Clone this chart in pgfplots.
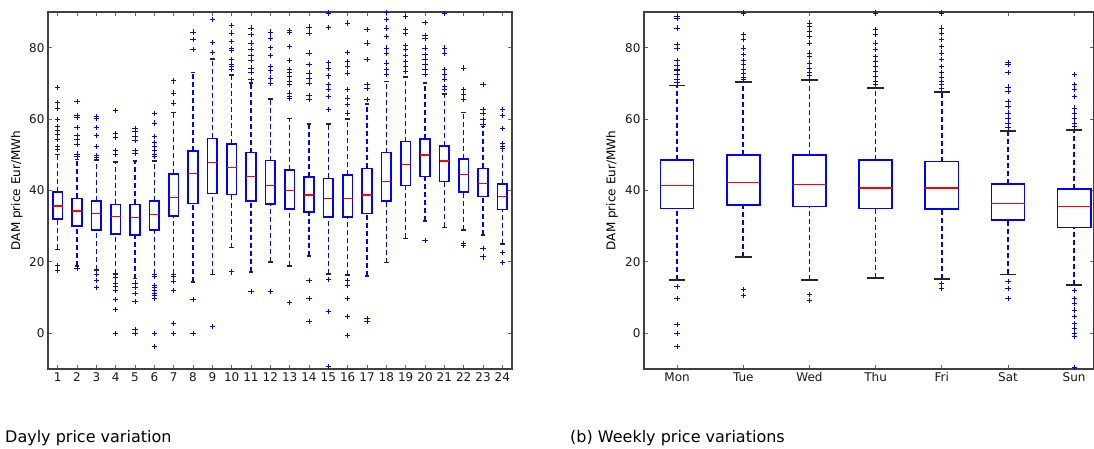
\documentclass[border=0pt]{standalone}
\usepackage{pgfplots}
\usepackage{pgfplotstable}
\pgfplotsset{compat=1.18}
\usepackage{fontspec}
\setmainfont{DejaVu Sans}

% half box width and half cap width (axis units)
\def\bw{0.25}
\def\cw{0.125}
% #1 pos, #2 lower whisker, #3 lower quartile, #4 median, #5 upper quartile, #6 upper whisker
\newcommand\bx[6]{%
  \pgfmathsetmacro\xl{#1-\bw}\pgfmathsetmacro\xr{#1+\bw}%
  \pgfmathsetmacro\capL{#1-\cw}\pgfmathsetmacro\capR{#1+\cw}%
  \edef\tmp{%
    \noexpand\addplot[whisk] coordinates {(#1,#2) (#1,#3)};
    \noexpand\addplot[whisk] coordinates {(#1,#5) (#1,#6)};
    \noexpand\addplot[boxl] coordinates {(\xl,#3) (\xr,#3) (\xr,#5) (\xl,#5) (\xl,#3) (\xr,#3)};
    \noexpand\addplot[medl] coordinates {(\xl,#4) (\xr,#4)};
    \noexpand\addplot[capl] coordinates {(\capL,#2) (\capR,#2)};
    \noexpand\addplot[capl] coordinates {(\capL,#6) (\capR,#6)};
  }\tmp}

\pgfplotsset{
  mpl/.style={
    scale only axis, anchor=south west,
    ymin=-10, ymax=90, ytick={0,20,40,60,80},
    axis line style={black!75, line width=1.2pt},
    tick style={black!60, line width=0.9pt},
    major tick length=4pt,
    tick align=inside,
    ticklabel style={font=\fontsize{12}{14}\selectfont, black!90},
    /pgf/number format/assume math mode=true,
    label style={font=\fontsize{12}{14}\selectfont},
  },
  whisk/.style={blue, line width=1.6pt, dash pattern=on 5pt off 3pt, no markers},
  boxl/.style={blue, line width=1.6pt, solid, no markers, line join=miter},
  medl/.style={red, line width=1.5pt, solid, no markers},
  capl/.style={black!85, line width=1.5pt, solid, no markers},
  flier/.style={only marks, mark=+, blue, mark size=2.6pt, mark options={line width=0.9pt, solid}},
}

\begin{document}
\begin{tikzpicture}
\useasboundingbox (0pt,0pt) rectangle (1094pt,448pt);

\begin{axis}[mpl, at={(48pt,79pt)}, width=464pt, height=357pt,
  xmin=0.5, xmax=24.5, xtick={1,...,24},
  ylabel={DAM price Eur/MWh},
  ylabel style={at={(axis description cs:-0.067,0.5)}, anchor=center}]
\bx{1}{23.5}{32.0}{35.7}{39.5}{50.1}
\bx{2}{18.9}{30.0}{34.2}{37.8}{48.7}
\bx{3}{17.7}{28.9}{33.6}{37.0}{48.6}
\bx{4}{16.6}{27.8}{32.7}{36.1}{48.0}
\bx{5}{15.3}{27.5}{32.4}{36.1}{48.3}
\bx{6}{16.5}{28.9}{33.3}{37.0}{48.3}
\bx{7}{16.5}{32.9}{38.0}{44.6}{61.8}
\bx{8}{14.4}{36.4}{44.8}{51.1}{73.1}
\bx{9}{16.5}{39.2}{47.9}{54.6}{76.9}
\bx{10}{24.0}{38.9}{46.4}{53.0}{72.4}
\bx{11}{17.2}{37.1}{43.9}{50.6}{70.1}
\bx{12}{20.0}{36.2}{41.4}{48.4}{65.6}
\bx{13}{18.8}{34.8}{40.0}{45.8}{60.2}
\bx{14}{21.7}{33.9}{38.7}{43.7}{58.6}
\bx{15}{16.6}{32.5}{37.8}{43.4}{58.6}
\bx{16}{16.3}{32.5}{37.8}{44.4}{60.0}
\bx{17}{16.0}{33.6}{38.7}{46.2}{64.2}
\bx{18}{19.8}{37.1}{42.5}{50.6}{70.6}
\bx{19}{26.6}{41.4}{47.3}{53.7}{71.8}
\bx{20}{31.4}{43.9}{50.0}{54.4}{70.1}
\bx{21}{29.7}{42.5}{48.3}{52.5}{67.1}
\bx{22}{28.9}{39.5}{44.5}{48.8}{61.9}
\bx{23}{27.5}{38.3}{42.0}{46.2}{57.9}
\bx{24}{25.0}{34.7}{38.3}{41.8}{51.8}
\addplot[flier] coordinates {
(1,68.9)(1,64.7)(1,63.1)(1,60)(1,57.9)(1,56.7)(1,55.8)(1,54.2)(1,52.3)(1,51.6)(1,18.9)(1,17.7)
(2,64.9)(2,60.9)(2,60.4)(2,57.6)(2,55.3)(2,54.2)(2,53)(2,50.2)(2,49.5)(2,18.2)
(3,60.7)(3,60.1)(3,57.6)(3,55.3)(3,52.3)(3,49.8)(3,49.2)(3,16.6)(3,14.9)(3,12.8)
(4,62.3)(4,56)(4,54.9)(4,51.1)(4,50.2)(4,15.6)(4,14.1)(4,13.2)(4,11.9)(4,9.5)(4,6.7)(4,0)
(5,57.4)(5,56.5)(5,55.1)(5,53.9)(5,51.2)(5,50.4)(5,14.1)(5,12.8)(5,11.1)(5,8.8)(5,1.0)(5,0)
(6,61.5)(6,58.9)(6,55.1)(6,53.4)(6,52.3)(6,51.2)(6,50.2)(6,49.5)(6,15.8)(6,13.5)(6,12.8)(6,12.1)(6,11.3)(6,10.7)(6,9.7)(6,0)(6,-3.6)
(7,70.7)(7,67.3)(7,64.5)(7,15.8)(7,14.4)(7,12.1)(7,2.7)(7,0)
(8,84.4)(8,82.2)(8,79.4)(8,9.5)(8,0)
(9,88)(9,81.5)(9,78.7)(9,2.0)
(10,86.3)(10,84.1)(10,81.8)(10,79.7)(10,79.2)(10,76.6)(10,75.4)(10,74.8)(10,73.8)(10,17.2)
(11,85.5)(11,83.8)(11,81.3)(11,79.4)(11,77.8)(11,76.4)(11,74.3)(11,73.2)(11,71.2)(11,11.6)
(12,84.4)(12,82.7)(12,80.1)(12,77.8)(12,74.8)(12,73.5)(12,71.5)(12,70.1)(12,11.6)
(13,84.9)(13,84.4)(13,80.4)(13,76.4)(13,73.8)(13,73.1)(13,72)(13,70.6)(13,69.6)(13,67.3)(13,66.3)(13,65.7)(13,8.6)
(14,85.8)(14,84.1)(14,78.5)(14,75.2)(14,72.9)(14,71.5)(14,70.1)(14,66.6)(14,65.4)(14,14.7)(14,9.7)(14,3.2)
(15,89.7)(15,85.7)(15,75.9)(15,74.3)(15,72.1)(15,69.6)(15,68.2)(15,66.3)(15,62.6)(15,15.1)(15,6.2)(15,-9.3)
(16,86.9)(16,78.7)(16,76.2)(16,74.8)(16,72.9)(16,68.2)(16,65.9)(16,64.2)(16,61.7)(16,14.7)(16,13.3)(16,9.7)(16,4.8)(16,-0.7)
(17,85.1)(17,81.3)(17,76.6)(17,69.6)(17,68.7)(17,65.4)(17,4.1)(17,3.2)
(18,89.9)(18,87.9)(18,85.5)(18,83.2)(18,79.9)(18,78.5)(18,75.7)(18,73.8)(18,72.4)
(19,88.8)(19,85.2)(19,84.1)(19,80.6)(19,79.4)(19,77.8)(19,76.2)(19,74.8)(19,73.4)
(20,87.1)(20,83.5)(20,82.7)(20,79.9)(20,78)(20,76.6)(20,75.2)(20,73.8)(20,72.4)(20,25.9)
(21,89.5)(21,79.9)(21,78.5)(21,73.8)(21,72.4)(21,71)(21,69.2)(21,68.2)
(22,74.3)(22,68.2)(22,67)(22,65.4)(22,25.2)(22,24.5)
(23,69.6)(23,62.6)(23,61.7)(23,59.8)(23,58.6)(23,23.8)(23,21.4)
(24,62.6)(24,61)(24,57.4)(24,53.2)(24,52.3)(24,22.6)(24,19.8)
};
\end{axis}

\begin{axis}[mpl, at={(644pt,79pt)}, width=450pt, height=357pt,
  xmin=0.5, xmax=7.3, xtick={1,...,7},
  xticklabels={Mon,Tue,Wed,Thu,Fri,Sat,Sun},
  ylabel={DAM price Eur/MWh},
  ylabel style={at={(axis description cs:-0.071,0.5)}, anchor=center}]
\bx{1}{14.9}{35.0}{41.4}{48.6}{69.4}
\bx{2}{21.4}{35.9}{42.2}{50.0}{70.4}
\bx{3}{14.9}{35.5}{41.7}{50.0}{71.0}
\bx{4}{15.5}{35.0}{40.7}{48.6}{68.7}
\bx{5}{15.2}{34.8}{40.7}{48.1}{67.6}
\bx{6}{16.5}{31.7}{36.4}{41.8}{56.7}
\bx{7}{13.5}{29.6}{35.5}{40.5}{57.0}
\addplot[flier] coordinates {
(1,88.8)(1,88.1)(1,85.5)(1,81)(1,79.7)(1,76.4)(1,75)(1,74)(1,73.5)(1,72.4)(1,71)(1,70.3)(1,13)(1,9.7)(1,2.5)(1,0)(1,-3.6)
(2,89.7)(2,83.6)(2,82.2)(2,79.9)(2,78)(2,76.4)(2,75.2)(2,73.8)(2,72.9)(2,71.8)(2,71)(2,12.3)(2,10.7)
(3,86.9)(3,86)(3,84.6)(3,83.2)(3,81.3)(3,78.5)(3,77.6)(3,75.7)(3,74.3)(3,73.1)(3,72.1)(3,10.9)(3,9.3)
(4,89.7)(4,85.2)(4,83.6)(4,81.3)(4,79.4)(4,77.6)(4,76.2)(4,74.8)(4,73.4)(4,72)(4,70.6)(4,69.6)
(5,89.7)(5,85.5)(5,84.1)(5,82.2)(5,80.4)(5,78.5)(5,76.6)(5,74.8)(5,73.1)(5,71.8)(5,70.6)(5,69.6)(5,68.7)(5,13.9)(5,12.5)
(6,75.9)(6,75.2)(6,73.1)(6,69)(6,67.7)(6,64.9)(6,63.5)(6,61.7)(6,60.3)(6,58.9)(6,57.7)(6,14.4)(6,12.5)(6,9.7)
(7,72.4)(7,69.6)(7,68.2)(7,66.3)(7,63.1)(7,61.7)(7,60.3)(7,58.9)(7,57.9)(7,12.1)(7,9.7)(7,8.3)(7,6.5)(7,4.6)(7,2.7)(7,1.3)(7,-0.1)(7,-1)(7,-9.5)
};
\end{axis}

\node[anchor=base west, font=\fontsize{16}{19}\selectfont, inner sep=0pt] at (5pt,6pt) {Dayly price variation};
\node[anchor=base west, font=\fontsize{16}{19}\selectfont, inner sep=0pt] at (570pt,6pt) {(b) Weekly price variations};
\end{tikzpicture}
\end{document}
